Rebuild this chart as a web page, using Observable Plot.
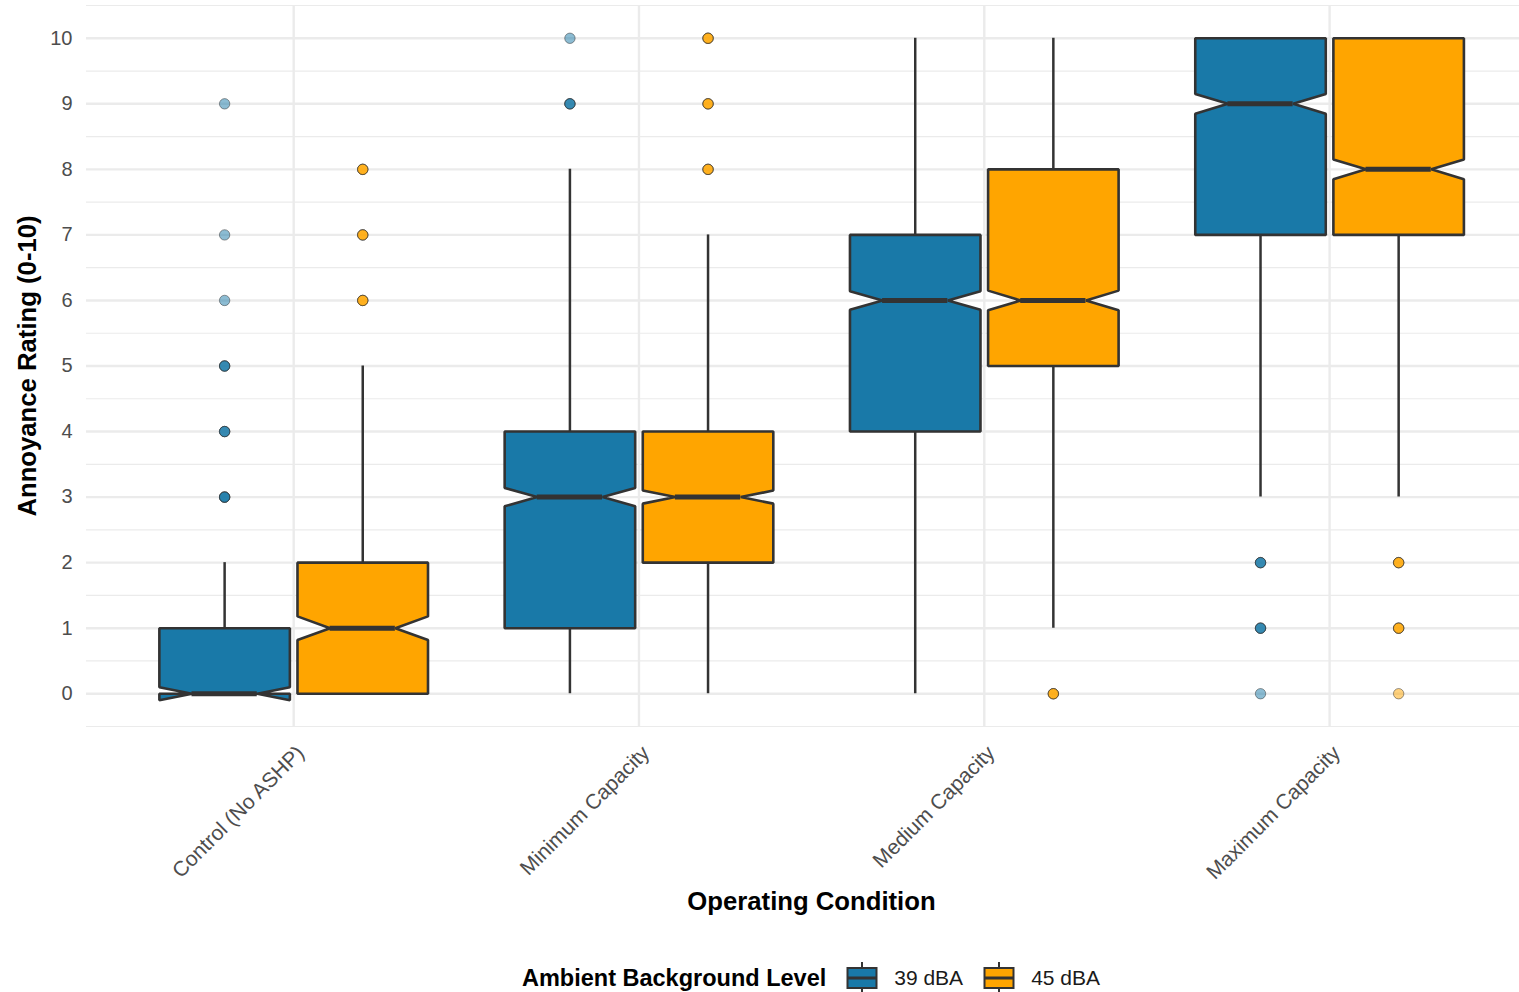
<!DOCTYPE html>
<html>
<head>
<meta charset="utf-8">
<script src="https://cdn.jsdelivr.net/npm/d3@7"></script>
<script src="https://cdn.jsdelivr.net/npm/@observablehq/plot@0.6"></script>
<style>
  html, body { margin: 0; padding: 0; background: #fff; overflow: hidden; }
  body { position: relative; width: 1519px; height: 992px; font-family: "Liberation Sans", Arial, Helvetica, sans-serif; }
  #legend { position: absolute; left: 0; top: 962px; width: 1519px; box-sizing: border-box; padding-left: 103px;
            display: flex; justify-content: center; align-items: center; height: 32px; }
  #legend .title { font-weight: bold; font-size: 23.5px; color: #000; margin-right: 20px; }
  #legend .lab { font-size: 21px; color: #1a1a1a; margin-left: 16px; margin-right: 20px; }
  #legend .lab:last-child { margin-right: 0; }
  #legend svg { display: block; }
</style>
</head>
<body>
<div id="chart"></div>
<div id="legend"></div>
<script>
// Operating conditions (x categories) and ambient background levels (dodged series)
const conditions = ["Control (No ASHP)", "Minimum Capacity", "Medium Capacity", "Maximum Capacity"];
const levels = ["39 dBA", "45 dBA"];
const palette = ["#1979A8", "#FFA500"];

// Box statistics per condition, 39 dBA
const lower39   = [0, 0, 0, 3];
const q1_39     = [0, 1, 4, 7];
const median39  = [0, 3, 6, 9];
const q3_39     = [1, 4, 7, 10];
const upper39   = [2, 8, 10, 10];
const notchLo39 = [-0.1, 2.86, 5.86, 8.85];
const notchHi39 = [0.1, 3.14, 6.14, 9.15];

// Box statistics per condition, 45 dBA
const lower45   = [0, 0, 1, 3];
const q1_45     = [0, 2, 5, 7];
const median45  = [1, 3, 6, 8];
const q3_45     = [2, 4, 8, 10];
const upper45   = [5, 7, 10, 10];
const notchLo45 = [0.82, 2.9, 5.85, 7.85];
const notchHi45 = [1.18, 3.1, 6.15, 8.15];

// Outliers: [condition index, rating, number of respondents]
const outliers39 = [[0, 9, 1], [0, 7, 1], [0, 6, 1], [0, 5, 3], [0, 4, 3], [0, 3, 4],
                    [1, 10, 1], [1, 9, 3],
                    [3, 2, 3], [3, 1, 3], [3, 0, 1]];
const outliers45 = [[0, 8, 3], [0, 7, 3], [0, 6, 3],
                    [1, 10, 3], [1, 9, 3], [1, 8, 3],
                    [2, 0, 3],
                    [3, 2, 3], [3, 1, 3], [3, 0, 1]];

// Y axis ticks
const yTicks = [0, 1, 2, 3, 4, 5, 6, 7, 8, 9, 10];
const yMinor = [-0.5, 0.5, 1.5, 2.5, 3.5, 4.5, 5.5, 6.5, 7.5, 8.5, 9.5, 10.5];

// ---- assemble tables ----
const dodge = 0.2;      // offset of each series from the category centre
const halfW = 0.189;    // half box width
const series = [
  {level: levels[0], lo: lower39, q1: q1_39, med: median39, q3: q3_39, hi: upper39, nlo: notchLo39, nhi: notchHi39, out: outliers39},
  {level: levels[1], lo: lower45, q1: q1_45, med: median45, q3: q3_45, hi: upper45, nlo: notchLo45, nhi: notchHi45, out: outliers45}
];

const polys = [], whiskers = [], medians = [], points = [];
series.forEach((s, li) => {
  const off = li === 0 ? -dodge : dodge;
  conditions.forEach((c, ci) => {
    const cx = ci + 1 + off;
    const key = s.level + "|" + c;
    const l = cx - halfW, r = cx + halfW, nl = cx - halfW / 2, nr = cx + halfW / 2;
    // notched box outline
    [[l, s.q1[ci]], [l, s.nlo[ci]], [nl, s.med[ci]], [l, s.nhi[ci]], [l, s.q3[ci]],
     [r, s.q3[ci]], [r, s.nhi[ci]], [nr, s.med[ci]], [r, s.nlo[ci]], [r, s.q1[ci]]]
      .forEach(([x, y]) => polys.push({key, level: s.level, x, y}));
    if (s.hi[ci] > s.q3[ci]) whiskers.push({x: cx, y1: s.q3[ci], y2: s.hi[ci]});
    if (s.lo[ci] < s.q1[ci]) whiskers.push({x: cx, y1: s.lo[ci], y2: s.q1[ci]});
    medians.push({x1: nl, x2: nr, y: s.med[ci]});
  });
  s.out.forEach(([ci, v, n]) => {
    for (let k = 0; k < n; k++) points.push({x: ci + 1 + off, y: v, level: s.level});
  });
});

const W = 1519, H = 940;
const font = "'Liberation Sans', Arial, Helvetica, sans-serif";

const chart = Plot.plot({
  width: W,
  height: H,
  marginLeft: 86,
  marginRight: 0,
  marginTop: 5,
  marginBottom: H - 726,
  style: {fontFamily: font, background: "#fff", overflow: "visible"},
  x: {domain: [0.4, 4.55], axis: null},
  y: {domain: [-0.5, 10.5], axis: null},
  color: {domain: levels, range: palette},
  marks: [
    Plot.gridY({ticks: yMinor, stroke: "#EBEBEB", strokeOpacity: 1, strokeWidth: 1.2}),
    Plot.gridY({ticks: yTicks, stroke: "#EBEBEB", strokeOpacity: 1, strokeWidth: 2.4}),
    Plot.gridX({ticks: [1, 2, 3, 4], stroke: "#EBEBEB", strokeOpacity: 1, strokeWidth: 2.4}),
    Plot.axisY({ticks: yTicks, tickSize: 0, tickPadding: 14, fontSize: 20, fill: "#4D4D4D", label: null}),
    Plot.text(conditions, {x: (d, i) => i + 1, frameAnchor: "bottom", rotate: -45, textAnchor: "end",
      lineAnchor: "middle", dx: 7, dy: 23, fontSize: 21, fill: "#4D4D4D"}),
    Plot.text(["Annoyance Rating (0-10)"], {frameAnchor: "left", rotate: -90, dx: -59, fontSize: 25.7,
      fontWeight: "bold", fill: "#000", textAnchor: "middle", lineAnchor: "middle"}),
    Plot.text(["Operating Condition"], {frameAnchor: "bottom", dx: 8.5, dy: 175, fontSize: 25.7,
      fontWeight: "bold", fill: "#000", textAnchor: "middle", lineAnchor: "middle"}),
    Plot.ruleX(whiskers, {x: "x", y1: "y1", y2: "y2", stroke: "#333333", strokeWidth: 2.5}),
    ...levels.map((lv, li) => Plot.line(polys.filter(d => d.level === lv), {
      x: "x", y: "y", z: "key", curve: "linear-closed", fill: palette[li],
      stroke: "#333333", strokeWidth: 2.6, strokeLinejoin: "miter"})),
    Plot.ruleY(medians, {x1: "x1", x2: "x2", y: "y", stroke: "#333333", strokeWidth: 5}),
    Plot.dot(points, {x: "x", y: "y", r: 5.2, fill: "level", fillOpacity: 0.5,
      stroke: "#333333", strokeOpacity: 0.5, strokeWidth: 1})
  ]
});
document.getElementById("chart").appendChild(chart);

// Legend: boxplot key glyphs
const legend = d3.select("#legend");
legend.append("span").attr("class", "title").text("Ambient Background Level");
levels.forEach((lv, i) => {
  const svg = legend.append("svg").attr("width", 32).attr("height", 32);
  svg.append("line").attr("x1", 16).attr("x2", 16).attr("y1", 0).attr("y2", 32)
    .attr("stroke", "#333").attr("stroke-width", 2);
  svg.append("rect").attr("x", 1.5).attr("y", 6).attr("width", 29).attr("height", 20)
    .attr("fill", palette[i]).attr("stroke", "#333").attr("stroke-width", 2);
  svg.append("line").attr("x1", 1.5).attr("x2", 30.5).attr("y1", 16).attr("y2", 16)
    .attr("stroke", "#333").attr("stroke-width", 3);
  legend.append("span").attr("class", "lab").text(lv);
});
</script>
</body>
</html>
